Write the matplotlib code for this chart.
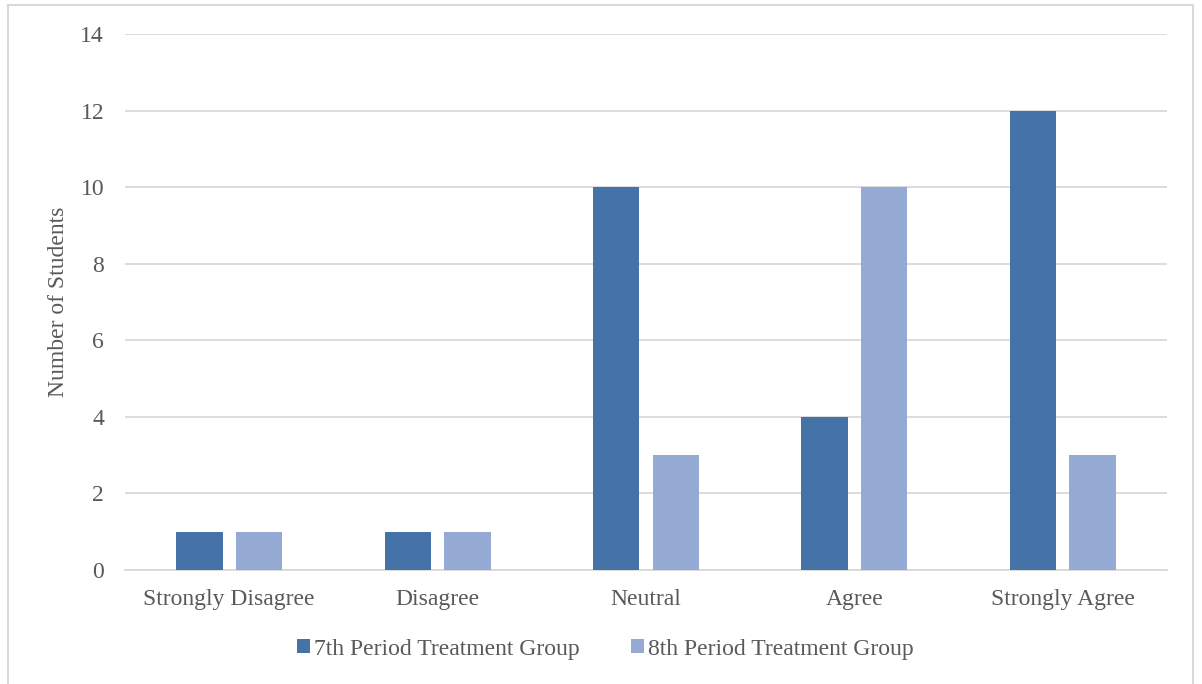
import matplotlib.pyplot as plt
import numpy as np
from matplotlib.patches import Rectangle, Patch

# Survey responses by class period
categories = ['Strongly Disagree', 'Disagree', 'Neutral', 'Agree', 'Strongly Agree']
period7 = [1, 1, 10, 4, 12]
period8 = [1, 1, 3, 10, 3]
series_labels = ['7th Period Treatment Group', '8th Period Treatment Group']
yticks = [0, 2, 4, 6, 8, 10, 12, 14]

dark = '#4673A7'
light = '#95AAD2'
text_color = '#595959'
grid_color = '#D9D9D9'

plt.rcParams['font.family'] = ['Liberation Serif', 'DejaVu Serif']

W, H = 1202, 684
fig = plt.figure(figsize=(W / 100, H / 100), dpi=100)

# plot area in pixel coordinates
left, right, top, bottom = 125, 1167, 34, 570
ax = fig.add_axes([left / W, 1 - bottom / H, (right - left) / W, (bottom - top) / H])

x = np.arange(len(categories))
width = 0.222
offset = 0.143
ax.bar(x - offset, period7, width, color=dark, zorder=3)
ax.bar(x + offset, period8, width, color=light, zorder=3)

ax.set_xlim(-0.5, len(categories) - 0.5)
ax.set_ylim(0, 14)
ax.set_yticks(yticks)
ax.set_xticks(x)
ax.set_xticklabels(categories)
ax.tick_params(axis='both', length=0, labelsize=17, colors=text_color)
ax.tick_params(axis='y', pad=15)
ax.tick_params(axis='x', pad=14)
ax.grid(axis='y', color=grid_color, linewidth=1.3, zorder=0)
for s in ['top', 'right', 'left']:
    ax.spines[s].set_visible(False)
ax.spines['bottom'].set_color(grid_color)
ax.spines['bottom'].set_linewidth(1.3)

ax.set_ylabel('Number of Students', fontsize=17, color=text_color, labelpad=8)

handles = [Patch(facecolor=c, edgecolor='none') for c in (dark, light)]
fig.legend(handles, series_labels, loc='center', bbox_to_anchor=(605.5 / W, 1 - 649 / H),
           ncol=2, frameon=False, fontsize=17, labelcolor=text_color,
           handletextpad=0.15, columnspacing=2.2, handlelength=0.55, handleheight=0.5)

# outer chart border
fig.patches.append(Rectangle((8 / W, -0.01), (1193 - 8) / W, 1 - 5 / H + 0.01,
                             transform=fig.transFigure, fill=False,
                             edgecolor=grid_color, linewidth=1.5))

plt.savefig('out.png', dpi=100)
